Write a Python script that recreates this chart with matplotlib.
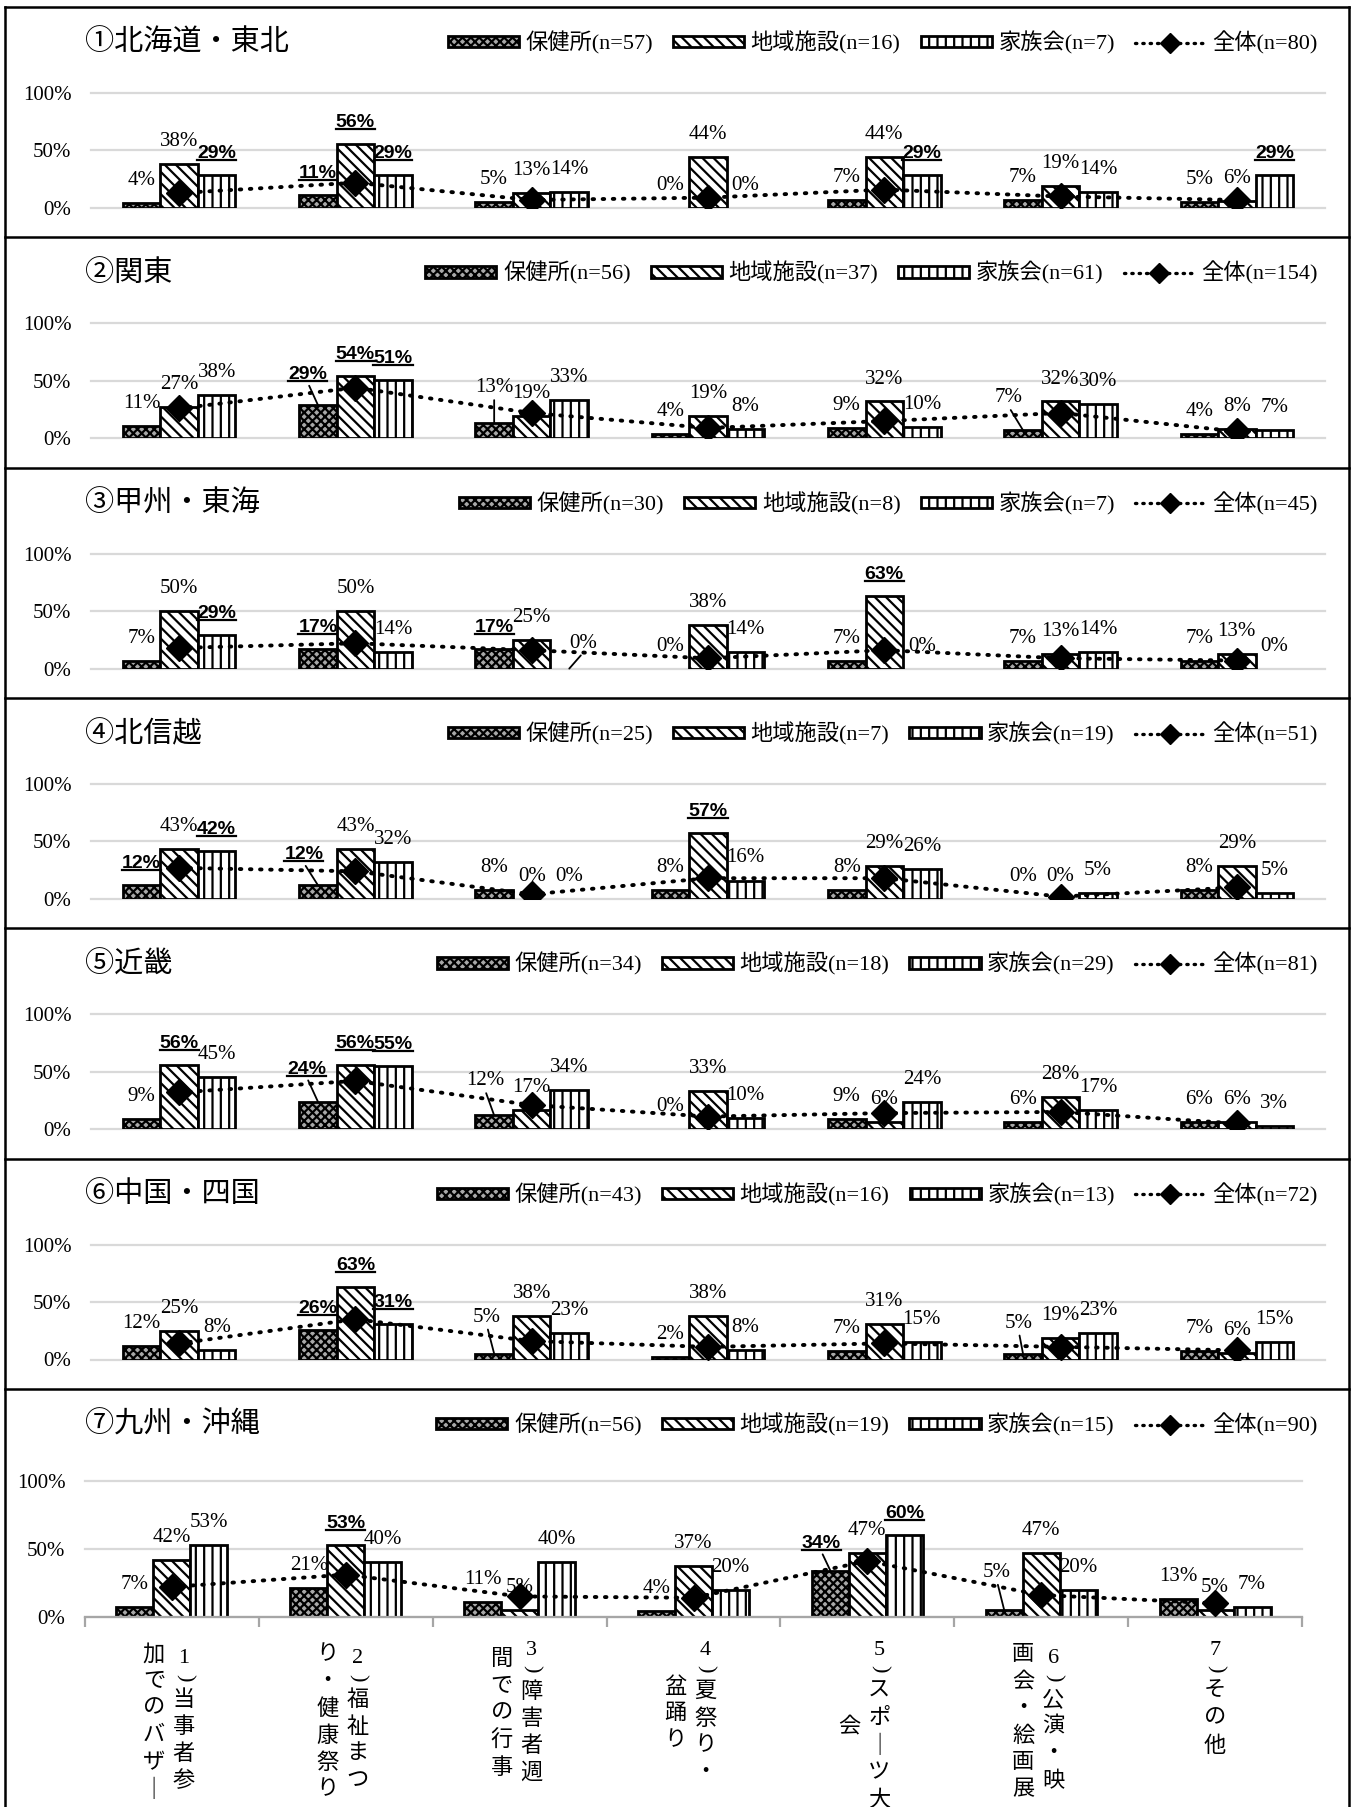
import numpy as np
import matplotlib
matplotlib.use('Agg')
import matplotlib.pyplot as plt
from matplotlib.lines import Line2D
from matplotlib.text import Text

plt.rcParams['font.family'] = ['Liberation Serif', 'Noto Sans CJK JP']
plt.rcParams['hatch.linewidth'] = 1.6

# ---- data ----
regions = ['①北海道・東北', '②関東', '③甲州・東海', '④北信越', '⑤近畿', '⑥中国・四国', '⑦九州・沖縄']
series_names = ['保健所', '地域施設', '家族会']
n_hoken = [57, 56, 30, 25, 34, 43, 56]
n_chiiki = [16, 37, 8, 7, 18, 16, 19]
n_kazoku = [7, 61, 7, 19, 29, 13, 15]
n_total = [80, 154, 45, 51, 81, 72, 90]

hoken = [[4, 11, 5, 0, 7, 7, 5],
         [11, 29, 13, 4, 9, 7, 4],
         [7, 17, 17, 0, 7, 7, 7],
         [12, 12, 8, 8, 8, 0, 8],
         [9, 24, 12, 0, 9, 6, 6],
         [12, 26, 5, 2, 7, 5, 7],
         [7, 21, 11, 4, 34, 5, 13]]
chiiki = [[38, 56, 13, 44, 44, 19, 6],
          [27, 54, 19, 19, 32, 32, 8],
          [50, 50, 25, 38, 63, 13, 13],
          [43, 43, 0, 57, 29, 0, 29],
          [56, 56, 17, 33, 6, 28, 6],
          [25, 63, 38, 38, 31, 19, 6],
          [42, 53, 5, 37, 47, 47, 5]]
kazoku = [[29, 29, 14, 0, 29, 14, 29],
          [38, 51, 33, 8, 10, 30, 7],
          [29, 14, 0, 14, 0, 14, 0],
          [42, 32, 0, 16, 26, 5, 5],
          [45, 55, 34, 10, 24, 17, 3],
          [8, 31, 23, 8, 15, 23, 15],
          [53, 40, 40, 20, 60, 20, 7]]
total = [[13, 22, 7, 9, 16, 10, 7],
         [26, 44, 22, 9, 15, 22, 6],
         [18, 22, 16, 9, 16, 9, 7],
         [27, 24, 4, 18, 18, 2, 10],
         [32, 42, 21, 11, 14, 15, 5],
         [14, 35, 16, 11, 14, 11, 8],
         [22, 31, 15, 14, 41, 16, 10]]

# highlighted (bold + underlined) labels: (panel, category, series)
bold_labels = {(0, 0, 2), (0, 1, 0), (0, 1, 1), (0, 1, 2), (0, 4, 2), (0, 6, 2),
               (1, 1, 0), (1, 1, 1), (1, 1, 2),
               (2, 0, 2), (2, 1, 0), (2, 2, 0), (2, 4, 1),
               (3, 0, 0), (3, 0, 2), (3, 1, 0), (3, 3, 1),
               (4, 0, 1), (4, 1, 0), (4, 1, 1), (4, 1, 2),
               (5, 1, 0), (5, 1, 1), (5, 1, 2),
               (6, 1, 1), (6, 4, 0), (6, 4, 2)}

# labels moved away with a leader line: (panel, category, series) -> shift in px
leaders = {(1, 1, 0): (-10, 9), (1, 2, 0): (0, 13), (1, 5, 0): (-14, 10),
           (2, 2, 2): (14, 3), (3, 1, 0): (-14, 9),
           (4, 1, 0): (-11, 11), (4, 2, 0): (-9, 12),
           (5, 2, 0): (-7, 14), (5, 5, 0): (-4, 8),
           (6, 4, 0): (-9, 6), (6, 5, 0): (-7, 15)}

# category labels, written vertically in two columns (right, left)
cat_cols = [("1)当事者参", "加でのバザー"),
            ("2)福祉まつ", "り・健康祭り"),
            ("3)障害者週", "間での行事"),
            ("4)夏祭り・", "盆踊り"),
            ("5)スポーツ大", "会"),
            ("6)公演・映", "画会・絵画展"),
            ("7)その他", "")]

W, H = 1356, 1807
fig = plt.figure(figsize=(W / 100, H / 100), dpi=100)

hatches = ['xxxx', '\\\\\\', '||']
faces = ['#a8a8a8', 'white', 'white']
w = 0.213
x = np.arange(7)
bold_texts = []

for k in range(7):
    top = 7 + 230.3 * k
    if k < 6:
        left, right, y100, y0 = 91, 1325, top + 86, top + 201
    else:
        left, right, y100, y0 = 85, 1302, top + 92, top + 228
    ax = fig.add_axes([left / W, 1 - y0 / H, (right - left) / W, (y0 - y100) / H])
    ax.set_xlim(-0.5, 6.5)
    ax.set_ylim(0, 100)
    for s in ax.spines.values():
        s.set_visible(False)
    for g in [0, 50, 100]:
        ax.axhline(g, color='#d9d9d9', lw=1.6, zorder=0, clip_on=False)
    ax.set_yticks([0, 50, 100])
    ax.set_yticklabels(['0%', '50%', '100%'], fontsize=15)
    ax.tick_params(axis='y', length=0, pad=14)

    data = [hoken[k], chiiki[k], kazoku[k]]
    ns = [n_hoken[k], n_chiiki[k], n_kazoku[k]]
    handles = []
    for si in range(3):
        lws = [0 if v == 0 else 2 for v in data[si]]
        b = ax.bar(x + (si - 1) * w, data[si], width=w, facecolor=faces[si],
                   edgecolor='black', linewidth=lws, hatch=hatches[si], zorder=2,
                   label=f'{series_names[si]}(n={ns[si]})')
        handles.append(b)
        for ci in range(7):
            v = data[si][ci]
            dx, dy = leaders.get((k, ci, si), (0, 0))
            isbold = (k, ci, si) in bold_labels
            kw = dict(family=['Liberation Sans'], weight='bold', fontsize=14) if isbold \
                else dict(fontsize=15)
            ap = None
            if (k, ci, si) in leaders:
                ap = dict(arrowstyle='-', color='black', lw=1.3, shrinkA=0, shrinkB=0,
                          relpos=(0.5, 0))
            t = ax.annotate(f'{v}%', (ci + (si - 1) * w, v),
                            xytext=(dx * 0.72, (13 + dy) * 0.72), textcoords='offset points',
                            ha='center', va='bottom', zorder=6, arrowprops=ap,
                            annotation_clip=False, **kw)
            if isbold:
                bold_texts.append(t)

    ax.plot(x, total[k], linestyle=(0, (0.4, 2.2)), dash_capstyle='round', color='black',
            lw=2.8, marker='D', markersize=13, zorder=5)
    handles.append(Line2D([], [], linestyle=(0, (0.4, 1.8)), dash_capstyle='round',
                          color='black', lw=2.4, marker='D', markersize=10,
                          label=f'全体(n={n_total[k]})'))

    ytitle = 1 - (top + 36) / H
    fig.text(85 / W, ytitle, regions[k], fontsize=21, va='center', ha='left',
             family=['Noto Sans CJK JP'])
    leg = ax.legend(handles=handles, loc='center right', bbox_to_anchor=(1318 / W, ytitle),
                    bbox_transform=fig.transFigure, ncol=4, frameon=False, fontsize=16,
                    handlelength=3.2, handleheight=0.4, handletextpad=0.3, columnspacing=0.9,
                    borderpad=0, borderaxespad=0)
    for p in leg.get_patches():
        p.set_linewidth(2)

    if k < 6:
        ax.set_xticks([])
    else:
        ax.spines['bottom'].set_visible(True)
        ax.spines['bottom'].set_color('#a6a6a6')
        ax.spines['bottom'].set_linewidth(1.6)
        ax.set_xticks(np.arange(-0.5, 7, 1))
        ax.set_xticklabels([])
        ax.tick_params(axis='x', length=7, width=1.6, color='#a6a6a6', direction='out')
        # vertical category labels
        for ci, (rcol, lcol) in enumerate(cat_cols):
            cols = [(rcol, 12 if lcol else 0), (lcol, -18)]
            items_all = []
            for text, cx in cols:
                items = []
                for ch in text.replace('ー', '｜'):
                    if ch.isdigit():
                        items.append((ch, 17, 0))
                    elif ch == ')':
                        items.append((ch, 20, -90))
                    else:
                        items.append((ch, 27, 0))
                items_all.append((items, cx))
            hmax = max(sum(h for _, h, _ in it) for it, _ in items_all)
            for items, cx in items_all:
                h = sum(hh for _, hh, _ in items)
                yy = (hmax - h) / 2
                for ch, hh, rot in items:
                    yc = 25 + yy + hh / 2
                    ax.annotate(ch, (ci, 0), xycoords=ax.get_xaxis_transform(),
                                xytext=(cx * 0.72, -yc * 0.72), textcoords='offset points',
                                ha='center', va='center', fontsize=16, rotation=rot,
                                annotation_clip=False)
                    yy += hh

# panel frames
for k in range(7):
    yb = 1 - (7 + 230.3 * k) / H
    fig.add_artist(Line2D([5 / W, 1349 / W], [yb, yb], color='black', lw=1.8))
for xx in [5, 1349]:
    fig.add_artist(Line2D([xx / W, xx / W], [1 - 7 / H, 0], color='black', lw=1.8))

# underline the highlighted labels (text box only, not the leader line)
fig.canvas.draw()
r = fig.canvas.get_renderer()
for t in bold_texts:
    bb = Text.get_window_extent(t, r)
    yy = (bb.y0 + 2) / H
    fig.add_artist(Line2D([bb.x0 / W, bb.x1 / W], [yy, yy], color='black', lw=1.6))

fig.savefig('out.png', dpi=100)
